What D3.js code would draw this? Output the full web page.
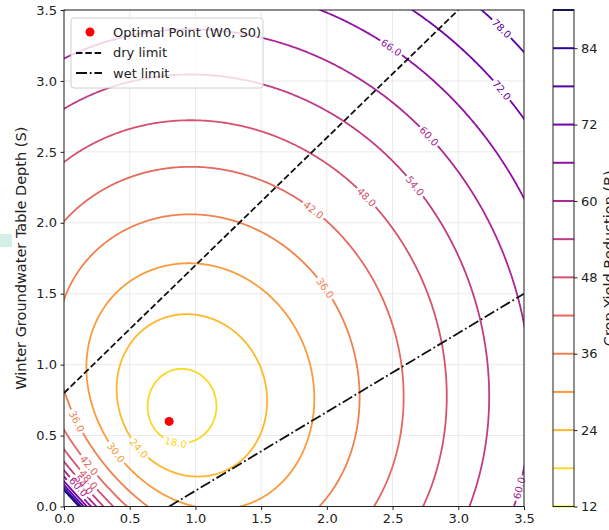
<!DOCTYPE html>
<html>
<head>
<meta charset="utf-8">
<title>Crop yield reduction contours</title>
<style>
  body { margin: 0; background: white; }
  svg { display: block; font-family: "DejaVu Sans", sans-serif; }
</style>
</head>
<body>
<div id="chart"></div>
<script src="https://cdn.jsdelivr.net/npm/d3@7"></script>
<script>
// surface fitted to contour positions:
// B = c + k*r + q*r^2 + A / (W + S)^p, r = distance from the bowl centre
var bowlCentre = [0.8214, 0.6319];
var radialCoef = [-0.821, 19.237, 0.1487];   // c, k, q
var wetCoef = [18.085, 0.6395];              // A, p

var levels = [12, 18, 24, 30, 36, 42, 48, 54, 60, 66, 72, 78, 84, 90];
var axisTicks = [0, 0.5, 1, 1.5, 2, 2.5, 3, 3.5];
var barTicks = [12, 24, 36, 48, 60, 72, 84];

var optimalPoint = [0.8, 0.6];
var dryLimit = [[0, 0.8], [3.0, 3.5]];
var wetLimit = [[0.8, 0], [3.5, 1.5]];

// where the inline labels sit: [level, W, S]
var labelSpots = [
  [18, 0.845, 0.447], [24, 0.58, 0.42], [30, 0.40, 0.38],
  [36, 0.11, 0.61], [42, 0.18, 0.28], [48, 0.18, 0.19],
  [54, 0.13, 0.14], [60, 0.09, 0.12],
  [36, 1.99, 1.545], [42, 1.895, 2.09], [48, 2.31, 2.18], [54, 2.66, 2.25],
  [60, 2.76, 2.6], [66, 2.48, 3.22], [72, 3.32, 2.93], [78, 3.33, 3.36],
  [60, 3.455, 0.13]
];

var width = 609, height = 530;
var plotL = 64, plotR = 524, plotT = 10, plotB = 506.5;

var svg = d3.select("#chart").append("svg")
  .attr("width", width)
  .attr("height", height);

// stray pixel block on the left edge of the screenshot
svg.append("rect").attr("x", 0).attr("y", 234).attr("width", 12).attr("height", 13)
  .attr("fill", "#d3efe8");

var x = d3.scaleLinear().domain([0, 3.5]).range([plotL, plotR]);
var y = d3.scaleLinear().domain([0, 3.5]).range([plotB, plotT]);
var colour = function(v) { return d3.interpolatePlasma(1 - (v - 12) / 78); };

svg.append("clipPath").attr("id", "plotclip")
  .append("rect").attr("x", plotL).attr("y", plotT)
  .attr("width", plotR - plotL).attr("height", plotB - plotT);

// grid
var grid = svg.append("g").attr("stroke", "#e4e4e4").attr("stroke-width", 0.8);
axisTicks.forEach(function(t) {
  grid.append("line").attr("x1", x(t)).attr("x2", x(t)).attr("y1", plotT).attr("y2", plotB);
  grid.append("line").attr("y1", y(t)).attr("y2", y(t)).attr("x1", plotL).attr("x2", plotR);
});

// sample the surface a little past the axes so the ring edges fall outside
function surface(w, s) {
  var r = Math.hypot(w - bowlCentre[0], s - bowlCentre[1]);
  var u = Math.max(w + s, 0.005);
  var v = radialCoef[0] + radialCoef[1] * r + radialCoef[2] * r * r + wetCoef[0] / Math.pow(u, wetCoef[1]);
  return Math.min(v, 500);
}
var step = 0.01, gMin = -0.1, gMax = 3.6;
var n = Math.round((gMax - gMin) / step) + 1;
var values = new Array(n * n);
for (var j = 0; j < n; j++) {
  for (var i = 0; i < n; i++) {
    values[j * n + i] = surface(gMin + i * step, gMin + j * step);
  }
}
var contours = d3.contours().size([n, n]).thresholds(levels)(values);

function toPx(p) {
  return [x(gMin + (p[0] - 0.5) * step), y(gMin + (p[1] - 0.5) * step)];
}
var path = d3.geoPath(d3.geoTransform({
  point: function(px, py) { var q = toPx([px, py]); this.stream.point(q[0], q[1]); }
}));

// inline labels: find nearest ring point, rotate with the ring
var labels = labelSpots.map(function(d) {
  var c = contours.find(function(k) { return k.value === d[0]; });
  var target = [x(d[1]), y(d[2])], best = null, bestD = Infinity;
  c.coordinates.forEach(function(poly) {
    poly.forEach(function(ring) {
      for (var i = 0; i < ring.length; i++) {
        var p = toPx(ring[i]);
        if (p[0] < plotL || p[0] > plotR || p[1] < plotT || p[1] > plotB) continue;
        var dd = (p[0] - target[0]) * (p[0] - target[0]) + (p[1] - target[1]) * (p[1] - target[1]);
        if (dd < bestD) { bestD = dd; best = { ring: ring, i: i, p: p }; }
      }
    });
  });
  if (!best) return null;
  var r = best.ring, k = best.i;
  var a = toPx(r[Math.max(k - 3, 0)]), b = toPx(r[Math.min(k + 3, r.length - 1)]);
  var ang = Math.atan2(b[1] - a[1], b[0] - a[0]) * 180 / Math.PI;
  if (ang > 90) ang -= 180;
  if (ang <= -90) ang += 180;
  return { level: d[0], x: best.p[0], y: best.p[1], angle: ang };
}).filter(Boolean);

var labelG = svg.append("g").attr("font-size", "10px").attr("text-anchor", "middle");
labels.forEach(function(l) {
  var t = labelG.append("text")
    .attr("transform", "translate(" + l.x + "," + l.y + ") rotate(" + l.angle + ")")
    .attr("dy", "0.35em")
    .attr("fill", colour(l.level))
    .text(l.level.toFixed(1));
  l.w = t.node().getComputedTextLength();
});

var mask = svg.append("mask").attr("id", "gapmask").attr("maskUnits", "userSpaceOnUse");
mask.append("rect").attr("x", 0).attr("y", 0).attr("width", width).attr("height", height).attr("fill", "white");
labels.forEach(function(l) {
  mask.append("rect")
    .attr("transform", "translate(" + l.x + "," + l.y + ") rotate(" + l.angle + ")")
    .attr("x", -l.w / 2 - 2).attr("y", -5).attr("width", l.w + 4).attr("height", 10)
    .attr("fill", "black");
});

svg.append("g").attr("clip-path", "url(#plotclip)")
  .append("g").attr("mask", "url(#gapmask)")
  .selectAll("path")
  .data(contours)
  .enter()
  .append("path")
  .attr("d", path)
  .attr("fill", "none")
  .attr("stroke", function(d) { return colour(d.value); })
  .attr("stroke-width", 1.8);

labelG.raise();

// limit lines
var lineGen = d3.line().x(function(d) { return x(d[0]); }).y(function(d) { return y(d[1]); });
var limits = svg.append("g").attr("clip-path", "url(#plotclip)");
limits.append("path").attr("d", lineGen(dryLimit))
  .attr("fill", "none").attr("stroke", "#111").attr("stroke-width", 1.8)
  .attr("stroke-dasharray", "6.5,2.8");
limits.append("path").attr("d", lineGen(wetLimit))
  .attr("fill", "none").attr("stroke", "#111").attr("stroke-width", 1.8)
  .attr("stroke-dasharray", "11,2.8,1.8,2.8");

svg.append("circle")
  .attr("cx", x(optimalPoint[0])).attr("cy", y(optimalPoint[1]))
  .attr("r", 4.5).attr("fill", "red");

// axes
var xAxis = svg.append("g").attr("transform", "translate(0," + plotB + ")")
  .call(d3.axisBottom(x).tickValues(axisTicks).tickFormat(d3.format(".1f")).tickSize(3.5).tickPadding(3.5));
var yAxis = svg.append("g").attr("transform", "translate(" + plotL + ",0)")
  .call(d3.axisLeft(y).tickValues(axisTicks).tickFormat(d3.format(".1f")).tickSize(3.5).tickPadding(3.5));
[xAxis, yAxis].forEach(function(g) {
  g.select(".domain").remove();
  g.selectAll("text").attr("font-size", "13px").attr("font-family", "DejaVu Sans").attr("fill", "#222");
  g.selectAll("line").attr("stroke", "#222");
});
svg.append("rect").attr("x", plotL).attr("y", plotT)
  .attr("width", plotR - plotL).attr("height", plotB - plotT)
  .attr("fill", "none").attr("stroke", "#222").attr("stroke-width", 1);

svg.append("text")
  .attr("transform", "translate(26," + ((plotT + plotB) / 2) + ") rotate(-90)")
  .attr("text-anchor", "middle")
  .attr("font-size", "14.5px")
  .attr("fill", "#222")
  .text("Winter Groundwater Table Depth (S)");

// legend
var legend = svg.append("g").attr("transform", "translate(71,18)");
legend.append("rect").attr("width", 192).attr("height", 70).attr("rx", 3)
  .attr("fill", "white").attr("fill-opacity", 0.8).attr("stroke", "#d0d0d0");
legend.append("circle").attr("cx", 19).attr("cy", 14).attr("r", 4.5).attr("fill", "red");
legend.append("line").attr("x1", 5).attr("x2", 31).attr("y1", 35).attr("y2", 35)
  .attr("stroke", "#111").attr("stroke-width", 1.8).attr("stroke-dasharray", "6.5,2.8");
legend.append("line").attr("x1", 5).attr("x2", 31).attr("y1", 55).attr("y2", 55)
  .attr("stroke", "#111").attr("stroke-width", 1.8).attr("stroke-dasharray", "11,2.8,1.8,2.8");
["Optimal Point (W0, S0)", "dry limit", "wet limit"].forEach(function(t, i) {
  legend.append("text").attr("x", 42).attr("y", 14 + i * 20.5).attr("dy", "0.35em")
    .attr("font-size", "13px").attr("fill", "#222").text(t);
});

// colour bar
var cbX = 553, cbW = 21;
var cb = d3.scaleLinear().domain([12, 90]).range([plotB, plotT]);
svg.append("g").selectAll("line").data(levels).enter().append("line")
  .attr("x1", cbX).attr("x2", cbX + cbW)
  .attr("y1", function(d) { return cb(d); }).attr("y2", function(d) { return cb(d); })
  .attr("stroke", function(d) { return colour(d); }).attr("stroke-width", 2);
svg.append("rect").attr("x", cbX).attr("y", plotT).attr("width", cbW).attr("height", plotB - plotT)
  .attr("fill", "none").attr("stroke", "#222").attr("stroke-width", 1);
var cbAxis = svg.append("g").attr("transform", "translate(" + (cbX + cbW) + ",0)")
  .call(d3.axisRight(cb).tickValues(barTicks).tickFormat(d3.format("d")).tickSize(3.5).tickPadding(3.5));
cbAxis.select(".domain").remove();
cbAxis.selectAll("text").attr("font-size", "13px").attr("font-family", "DejaVu Sans").attr("fill", "#222");
cbAxis.selectAll("line").attr("stroke", "#222");

// cut off by the right edge, as in the screenshot
svg.append("text")
  .attr("transform", "translate(614," + ((plotT + plotB) / 2) + ") rotate(-90)")
  .attr("text-anchor", "middle")
  .attr("font-size", "14.5px")
  .attr("fill", "#222")
  .text("Crop Yield Reduction (B)");
</script>
</body>
</html>
